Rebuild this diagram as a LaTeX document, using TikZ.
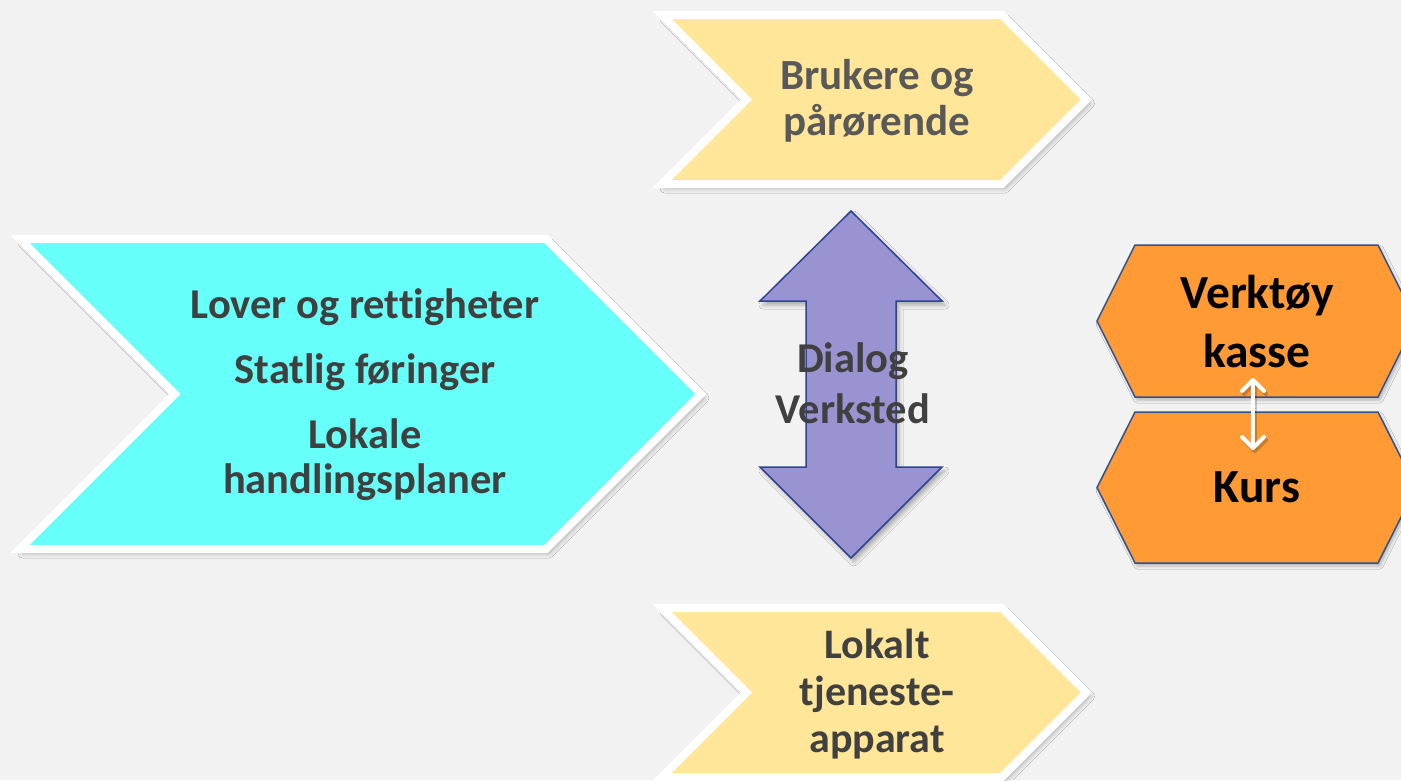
\documentclass[tikz,border=0pt]{standalone}
\usepackage{fontspec}
\setmainfont{Carlito}[Ligatures=NoCommon]
\usetikzlibrary{shadows.blur,arrows.meta}
\definecolor{bg}{HTML}{F2F2F2}
\definecolor{cyanf}{HTML}{66FFF9}
\definecolor{yell}{HTML}{FFE699}
\definecolor{lav}{HTML}{9A93D1}
\definecolor{lavb}{HTML}{2E4592}
\definecolor{oran}{HTML}{FF9A35}
\definecolor{hexb}{HTML}{2F528F}
\definecolor{txtd}{HTML}{404040}
\definecolor{txtg}{HTML}{595959}
\tikzset{
  chev/.style={draw=white, line width=8pt, line join=miter,
    blur shadow={shadow xshift=3pt, shadow yshift=-4pt, shadow blur radius=5pt, shadow opacity=32}},
  dblarrow/.style={fill=lav, draw=lavb, line width=1.5pt, line join=miter,
    blur shadow={shadow xshift=3pt, shadow yshift=-4pt, shadow blur radius=4pt, shadow opacity=30}},
  hexa/.style={fill=oran, draw=hexb, line width=1.5pt, line join=miter,
    blur shadow={shadow xshift=2pt, shadow yshift=-3pt, shadow blur radius=3pt, shadow opacity=25}},
  lbl/.style={inner sep=0pt, anchor=base},
  wtip/.style={{Straight Barb[length=11pt,width=22pt,round]}-{Straight Barb[length=11pt,width=22pt,round]}, line width=4pt}
}
\begin{document}
\begin{tikzpicture}[x=1pt,y=-1pt]
\fill[bg] (0,0) rectangle (1401,780);
\useasboundingbox (0,0) rectangle (1401,780);

% cyan chevron
\path[chev, fill=cyanf] (20,239) -- (546,239) -- (701,394) -- (546,549) -- (20,549) -- (175,394) -- cycle;
% yellow chevrons
\path[chev, fill=yell] (662,15) -- (1002,15) -- (1086.5,99.5) -- (1002,184) -- (662,184) -- (746.5,99.5) -- cycle;
\path[chev, fill=yell] (662,608) -- (1002,608) -- (1086.5,692.5) -- (1002,777) -- (662,777) -- (746.5,692.5) -- cycle;
% double arrow
\path[dblarrow] (851,211) -- (942,301) -- (896,301) -- (896,467) -- (942,467) -- (851,558) -- (760,467) -- (806,467) -- (806,301) -- (760,301) -- cycle;
% hexagons
\path[hexa] (1097,321) -- (1135,245) -- (1378,245) -- (1416,321) -- (1378,397) -- (1135,397) -- cycle;
\path[hexa] (1097,487.5) -- (1135,412) -- (1378,412) -- (1416,487.5) -- (1378,563) -- (1135,563) -- cycle;

% texts
\node[lbl, text=txtd, font=\fontsize{42.5}{45}\selectfont\bfseries] (law) at (365,318)
  {\begin{tabular}[t]{@{}c@{}}Lover og rettigheter\\[20pt] Statlig føringer\\[20pt] Lokale\\ handlingsplaner\end{tabular}};
\node[lbl, text=txtg, font=\fontsize{43}{46}\selectfont\bfseries] (users) at (877,89)
  {\begin{tabular}[t]{@{}c@{}}Brukere og\\ pårørende\end{tabular}};
\node[lbl, text=txtd, font=\fontsize{42}{47}\selectfont\bfseries] (local) at (877,658)
  {\begin{tabular}[t]{@{}c@{}}Lokalt\\ tjeneste-\\ apparat\end{tabular}};
\node[lbl, text=txtd, font=\fontsize{42.5}{51}\selectfont\bfseries] (dialog) at (853,372)
  {\begin{tabular}[t]{@{}c@{}}Dialog\\ Verksted\end{tabular}};
\node[lbl, text=black, font=\fontsize{47.5}{59}\selectfont\bfseries] (tools) at (1257,308)
  {\begin{tabular}[t]{@{}c@{}}Verktøy\\ kasse\end{tabular}};
\node[lbl, text=black, font=\fontsize{47.5}{59}\selectfont\bfseries] (course) at (1257,502) {Kurs};

% white double arrow
\coordinate (wa) at (1253,378);
\coordinate (wb) at (1253,450);
\draw[wtip, black, opacity=0.2] ([shift={(2,3)}]wa) -- ([shift={(2,3)}]wb);
\draw[wtip, white] (wa) -- (wb);
\end{tikzpicture}
\end{document}
